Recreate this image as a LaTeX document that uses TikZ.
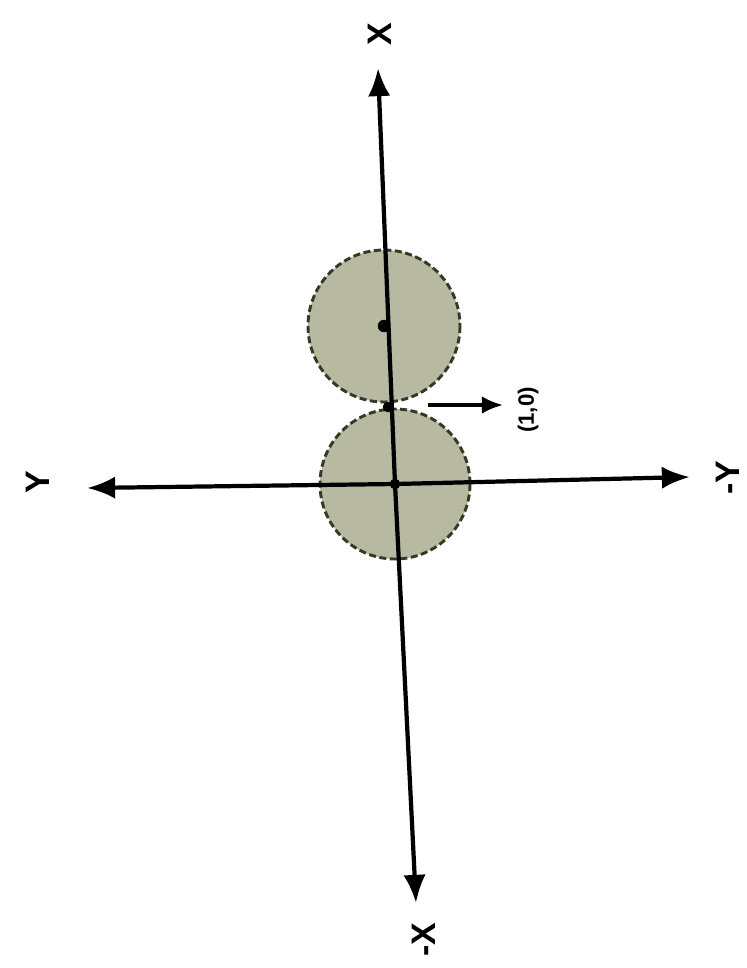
\documentclass[tikz,border=0pt]{standalone}
\usepackage{fontspec}
\setmainfont{Liberation Sans}
\usetikzlibrary{arrows.meta}
\definecolor{lobefill}{RGB}{183,185,160}
\definecolor{lobeline}{RGB}{55,57,38}
\tikzset{
  axisline/.style={line width=3.6pt,-{Latex[length=24pt,width=19pt]}},
  lobe/.style={fill=lobefill,draw=lobeline,line width=2.5pt,dash pattern=on 6pt off 3pt},
  axlabel/.style={rotate=90,font=\fontsize{29}{31}\selectfont\bfseries},
  dotmark/.style={fill=black,draw=black}
}
\begin{document}
\begin{tikzpicture}[x=0.03cm,y=-0.03cm]
			\useasboundingbox (0,0) rectangle (747,968);
			
			\coordinate (o) at (395,484);
			\coordinate (c) at (384,326);
			\coordinate (t) at (388,407);
			\coordinate (xtop) at (378,68);
			\coordinate (xbot) at (416,903);
			\coordinate (yleft) at (87,488);
			\coordinate (yright) at (690,477);
			\coordinate (pa) at (428,405);
			\coordinate (pb) at (503,405);
			
			\draw[lobe] (c) circle (76);
			\draw[lobe] (o) circle (75);
			
			\draw[axisline] (o) -- (xtop);
			\draw[axisline] (o) -- (xbot);
			\draw[axisline] (o) -- (yleft);
			\draw[axisline] (o) -- (yright);
			\draw[line width=3pt,-{Latex[length=18pt,width=15pt]}] (pa) -- (pb);
			
			\draw[dotmark] (o) circle (5);
			\draw[dotmark] (c) circle (6);
			\draw[dotmark] (t) circle (5);
			
			\node[axlabel] (lx) at (380,34) {X};
			\node[axlabel] (lmx) at (424,940) {-X};
			\node[axlabel] (ly) at (38,482) {Y};
			\node[axlabel] (lmy) at (728,478) {-Y};
			\node[rotate=90,font=\fontsize{19}{21}\selectfont\bfseries] (lp) at (528,410) {(1,0)};
		\end{tikzpicture}
\end{document}
